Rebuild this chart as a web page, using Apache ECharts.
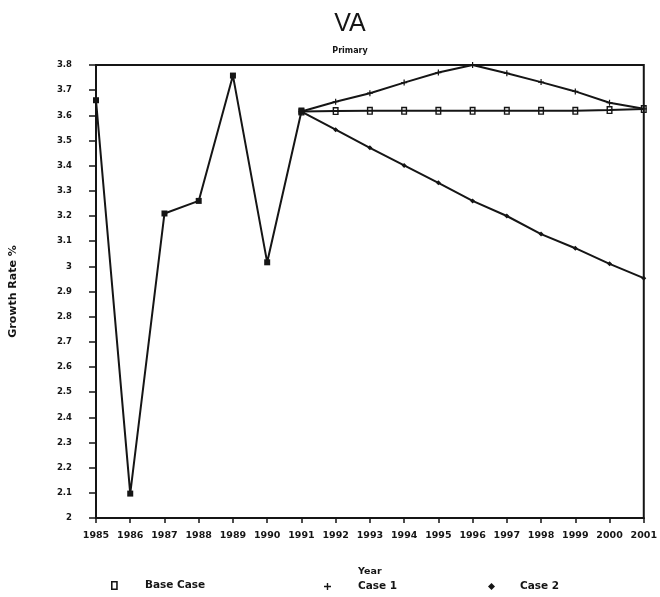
<!DOCTYPE html>
<html>
<head>
<meta charset="utf-8">
<script src="https://cdn.jsdelivr.net/npm/echarts@6/dist/echarts.min.js"></script>
<style>html,body{margin:0;padding:0;background:#fff;}#c{width:660px;height:597px;}</style>
</head>
<body>
<div id="c"></div>
<script>
const years = ['1985','1986','1987','1988','1989','1990','1991','1992','1993','1994','1995','1996','1997','1998','1999','2000','2001'];
// historical values 1985-1991
const history = [3.66, 2.097, 3.21, 3.26, 3.758, 3.016, 3.615];
// projections 1991-2001
const baseCase = [3.615, 3.617, 3.618, 3.618, 3.618, 3.618, 3.618, 3.618, 3.618, 3.621, 3.625];
const case1 = [3.615, 3.654, 3.688, 3.730, 3.770, 3.800, 3.767, 3.732, 3.695, 3.650, 3.626];
const case2 = [3.615, 3.543, 3.471, 3.401, 3.332, 3.260, 3.200, 3.128, 3.072, 3.010, 2.953];
const legendNames = ['Base Case', 'Case 1', 'Case 2'];

const pad = n => Array(n).fill('-');
const histData = history.concat(pad(years.length - history.length));
const projOffset = history.length - 1;
const baseData = pad(projOffset).concat(baseCase);
const c1Data = pad(projOffset).concat(case1);
const c2Data = pad(projOffset).concat(case2);

const ink = '#151515';
const hollowSym = 'path://M0,0H6V8H0Z M1.4,1.4V6.6H4.6V1.4Z';
const plusSym = 'path://M2,0H3V2H5V3H3V5H2V3H0V2H2Z';
const fontSmall = 'DejaVu Sans';

const chart = echarts.init(document.getElementById('c'), null, {renderer: 'canvas'});
chart.setOption({
  backgroundColor: '#fff',
  animation: false,
  title: [
    {text: 'VA', left: 345, top: 7, textAlign: 'center',
     textStyle: {fontFamily: 'Liberation Sans', fontSize: 25, fontWeight: 'normal', color: ink}},
    {text: 'Primary', left: 345, top: 42, textAlign: 'center',
     textStyle: {fontFamily: fontSmall, fontSize: 8, fontWeight: 'bold', color: ink}}
  ],
  legend: [
    {data: [legendNames[0]], left: 111, top: 580, padding: 0, itemWidth: 7, itemHeight: 9, icon: hollowSym,
     itemStyle: {color: ink}, textStyle: {fontFamily: fontSmall, fontSize: 10.5, fontWeight: 'bold', color: ink, padding: [0,0,0,22]}},
    {data: [legendNames[1]], left: 324, top: 581, padding: 0, itemWidth: 7, itemHeight: 7, icon: plusSym,
     itemStyle: {color: ink}, textStyle: {fontFamily: fontSmall, fontSize: 10.5, fontWeight: 'bold', color: ink, padding: [0,0,0,22]}},
    {data: [legendNames[2]], left: 488, top: 581, padding: 0, itemWidth: 7, itemHeight: 7, icon: 'diamond',
     itemStyle: {color: ink}, textStyle: {fontFamily: fontSmall, fontSize: 10.5, fontWeight: 'bold', color: ink, padding: [0,0,0,20]}}
  ],
  grid: {left: 93, right: 15, top: 65, bottom: 79, show: true, borderColor: ink, borderWidth: 2, backgroundColor: 'transparent'},
  xAxis: {
    type: 'category', data: years, boundaryGap: false,
    name: 'Year', nameLocation: 'middle', nameGap: 49,
    nameTextStyle: {fontFamily: fontSmall, fontSize: 9.5, fontWeight: 'bold', color: ink},
    axisLine: {lineStyle: {color: ink, width: 2}},
    axisTick: {show: true, length: 5, lineStyle: {color: ink, width: 1.5}},
    axisLabel: {interval: 0, margin: 13, fontFamily: fontSmall, fontSize: 9.5, fontWeight: 'bold', color: ink},
    splitLine: {show: false}
  },
  yAxis: {
    type: 'value', min: 2, max: 3.8, interval: 0.1,
    name: 'Growth Rate %', nameLocation: 'middle', nameGap: 77, nameRotate: 90,
    nameTextStyle: {fontFamily: fontSmall, fontSize: 11, fontWeight: 'bold', color: ink},
    axisLine: {show: true, lineStyle: {color: ink, width: 2}},
    axisTick: {show: true, length: 7, lineStyle: {color: ink, width: 1.5}},
    axisLabel: {margin: 24, fontFamily: fontSmall, fontSize: 8.5, fontWeight: 'bold', color: ink},
    splitLine: {show: false}
  },
  series: [
    {name: legendNames[0], type: 'line', data: baseData, symbol: hollowSym, symbolSize: [6, 8],
     lineStyle: {color: ink, width: 2}, itemStyle: {color: ink}, z: 3},
    {name: legendNames[1], type: 'line', data: c1Data, symbol: plusSym, symbolSize: 6,
     lineStyle: {color: ink, width: 2}, itemStyle: {color: ink}, z: 3},
    {name: legendNames[2], type: 'line', data: c2Data, symbol: 'diamond', symbolSize: 5,
     lineStyle: {color: ink, width: 2}, itemStyle: {color: ink}, z: 3},
    {name: 'History', type: 'line', data: histData, symbol: 'rect', symbolSize: 6,
     lineStyle: {color: ink, width: 2}, itemStyle: {color: ink}, z: 5}
  ]
});
</script>
</body>
</html>
